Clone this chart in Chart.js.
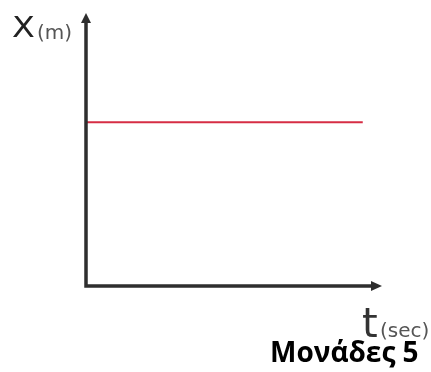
<!DOCTYPE html>
<html>
<head>
<meta charset="utf-8">
<script src="https://cdn.jsdelivr.net/npm/chart.js@4"></script>
<style>
  html, body { margin:0; padding:0; background:#fff; }
  #wrap { position:relative; width:431px; height:372px; overflow:hidden; }
  #c { position:absolute; left:0; top:0; }
  .lbl { position:absolute; line-height:1; white-space:nowrap; font-family:"DejaVu Sans", sans-serif; }
</style>
</head>
<body>
<div id="wrap">
  <canvas id="c" width="431" height="372"></canvas>
  <span class="lbl" id="xl" style="left:12px; top:13px; font-size:29px; color:#222; transform:scaleX(1.15); transform-origin:left top;">X</span>
  <span class="lbl" id="xu" style="left:37px; top:22px; font-size:20px; color:#555;">(m)</span>
  <span class="lbl" id="tl" style="left:362px; top:303px; font-size:40px; color:#333;">t</span>
  <span class="lbl" id="tu" style="left:380px; top:320px; font-size:20px; color:#555;">(sec)</span>
  <span class="lbl" id="marks" style="left:270px; top:337px; font-size:28px; font-weight:700; color:#000; font-family:'Open Sans', sans-serif;">Μονάδες 5</span>
</div>
<script>
// Data
const times = [0, 9.35];          // t (sec)
const positions = [6, 6];         // x (m): constant position
const xRange = [0, 10];
const yRange = [0, 10];

const axesArrows = {
  id: 'axesArrows',
  afterDraw(chart) {
    const ctx = chart.ctx;
    const xs = chart.scales.x, ys = chart.scales.y;
    const x0 = xs.getPixelForValue(xRange[0]);
    const x1 = xs.getPixelForValue(xRange[1]);
    const y0 = ys.getPixelForValue(yRange[0]);
    const y1 = ys.getPixelForValue(yRange[1]);
    ctx.save();
    ctx.strokeStyle = '#2e2e2e';
    ctx.fillStyle = '#2e2e2e';
    ctx.lineWidth = 3.5;
    ctx.lineCap = 'butt';
    ctx.beginPath();
    ctx.moveTo(x0, y1 + 8);
    ctx.lineTo(x0, y0);
    ctx.lineTo(x1 - 8, y0);
    ctx.stroke();
    // up arrow
    ctx.beginPath();
    ctx.moveTo(x0, y1);
    ctx.lineTo(x0 - 5, y1 + 10);
    ctx.lineTo(x0 + 5, y1 + 10);
    ctx.closePath();
    ctx.fill();
    // right arrow
    ctx.beginPath();
    ctx.moveTo(x1, y0);
    ctx.lineTo(x1 - 11, y0 - 5);
    ctx.lineTo(x1 - 11, y0 + 5);
    ctx.closePath();
    ctx.fill();
    ctx.restore();
  }
};

new Chart(document.getElementById('c'), {
  type: 'line',
  data: {
    datasets: [{
      data: times.map((t, i) => ({ x: t, y: positions[i] })),
      borderColor: 'rgb(214,45,68)',
      borderWidth: 2,
      pointRadius: 0,
      fill: false,
      tension: 0
    }]
  },
  options: {
    responsive: false,
    animation: false,
    events: [],
    layout: { padding: { left: 86, right: 49, top: 13, bottom: 86 } },
    plugins: { legend: { display: false }, tooltip: { enabled: false } },
    scales: {
      x: { type: 'linear', min: xRange[0], max: xRange[1], display: false },
      y: { type: 'linear', min: yRange[0], max: yRange[1], display: false }
    }
  },
  plugins: [axesArrows]
});
</script>
</body>
</html>
